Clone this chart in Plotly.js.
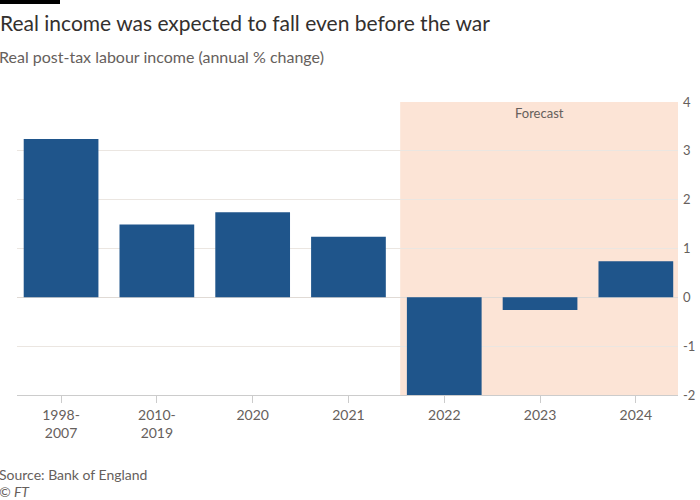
<!DOCTYPE html>
<html>
<head>
<meta charset="utf-8">
<script src="https://cdn.plot.ly/plotly-3.0.1.min.js"></script>
<style>html,body{margin:0;padding:0;background:#fff;}#chart{width:700px;height:500px;}</style>
</head>
<body>
<div id="chart"></div>
<script>
const categories = ["1998-<br>2007", "2010-<br>2019", "2020", "2021", "2022", "2023", "2024"];
const values = [3.24, 1.49, 1.74, 1.24, -2.0, -0.26, 0.74];
const yTicks = [-2, -1, 0, 1, 2, 3, 4];
const forecastStart = 4; // index of first forecast category

const xIdx = categories.map((c, i) => i);

const trace = {
  type: 'bar',
  x: xIdx,
  y: values,
  width: 0.78,
  marker: {color: '#1f558b'},
  hoverinfo: 'y',
  showlegend: false,
  cliponaxis: true
};

const font = 'Lato, "Noto Sans", sans-serif';
const leftX = -20/661;

const layout = {
  width: 700, height: 500,
  margin: {l: 17, r: 22, t: 102, b: 105, pad: 0},
  paper_bgcolor: '#ffffff',
  plot_bgcolor: 'rgba(0,0,0,0)',
  font: {family: font, color: '#66605c', size: 13},
  title: {
    text: 'Real income was expected to fall even before the war',
    font: {family: font, size: 21, color: '#33302e'},
    xref: 'container', x: 0, xanchor: 'left', pad: {l: 0, r: 0, t: 0, b: 0},
    yref: 'container', y: 1 - 24/500, yanchor: 'middle'
  },
  bargap: 0.22,
  xaxis: {
    range: [-0.46, 6.44],
    tickmode: 'array',
    tickvals: xIdx,
    ticktext: categories,
    showgrid: false,
    zeroline: false,
    showline: true,
    linecolor: '#cccccc',
    linewidth: 1,
    ticks: 'outside',
    ticklen: 7,
    tickcolor: '#cccccc',
    tickfont: {family: font, size: 14, color: '#66605c'},
    fixedrange: true
  },
  yaxis: {
    range: [-2, 4],
    side: 'right',
    tickmode: 'array',
    tickvals: yTicks,
    ticktext: yTicks.map(String),
    showgrid: true,
    gridcolor: '#ebe6e1',
    gridwidth: 1,
    zeroline: true,
    zerolinecolor: '#e0dad5',
    zerolinewidth: 1,
    showline: false,
    ticks: '',
    ticklabelstandoff: 4,
    tickfont: {family: font, size: 13, color: '#66605c'},
    fixedrange: true
  },
  shapes: [
    {
      type: 'rect', layer: 'below',
      xref: 'x', yref: 'paper',
      x0: forecastStart - 0.46, x1: 6.44, y0: 0, y1: 1,
      fillcolor: '#fce4d6', line: {width: 0}
    },
    {
      type: 'rect', layer: 'above',
      xref: 'paper', yref: 'paper',
      x0: -17/661, x1: (60-17)/661, y0: (395-4)/293, y1: 395/293,
      fillcolor: '#000000', line: {width: 0}
    }
  ],
  annotations: [
    {
      text: 'Real post-tax labour income (annual % change)',
      xref: 'paper', yref: 'paper', x: leftX, y: (395-57)/293,
      xanchor: 'left', yanchor: 'middle', showarrow: false,
      font: {family: font, size: 16, color: '#66605c'}
    },
    {
      text: 'Forecast',
      xref: 'x', yref: 'paper', x: (forecastStart - 0.46 + 6.44)/2, y: (395-113)/293,
      xanchor: 'center', yanchor: 'middle', showarrow: false,
      font: {family: font, size: 13, color: '#66605c'}
    },
    {
      text: 'Source: Bank of England',
      xref: 'paper', yref: 'paper', x: leftX, y: (395-474)/293,
      xanchor: 'left', yanchor: 'middle', showarrow: false,
      font: {family: font, size: 14, color: '#66605c'}
    },
    {
      text: '<i>© FT</i>',
      xref: 'paper', yref: 'paper', x: leftX, y: (395-491)/293,
      xanchor: 'left', yanchor: 'middle', showarrow: false,
      font: {family: font, size: 14, color: '#66605c'}
    }
  ]
};

Plotly.newPlot('chart', [trace], layout, {displayModeBar: false, staticPlot: true});
</script>
</body>
</html>
